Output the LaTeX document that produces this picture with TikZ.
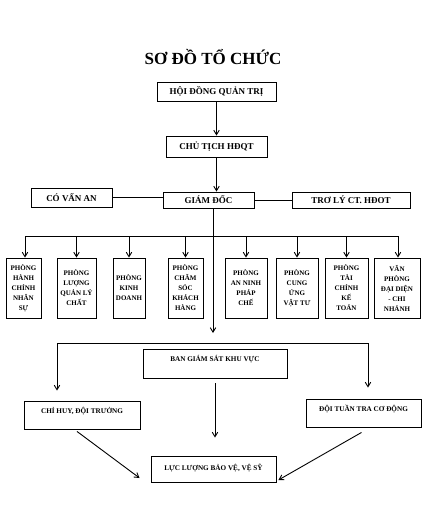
\documentclass[tikz,border=0pt]{standalone}
\usepackage{fontspec}
\setmainfont{Liberation Serif}
\usepackage{tikz}
\usetikzlibrary{arrows.meta}

\begin{document}
\begin{tikzpicture}[
  x=1pt, y=-1pt,
  every node/.style={font=\bfseries\fontsize{9}{10}\selectfont},
  box/.style={draw=black, line width=0.9pt, inner sep=0pt, align=center},
  dept/.style={box, font=\bfseries\fontsize{7}{10}\selectfont,
               minimum height=60pt},
  wide/.style={box, font=\bfseries\fontsize{7.2}{8}\selectfont},
  arr/.style={-{Straight Barb[length=4.5pt,width=5.5pt]}, line width=0.9pt},
  ln/.style={line width=0.9pt}
]
\useasboundingbox (0,0) rectangle (436,506);

\node[font=\bfseries\fontsize{17}{19}\selectfont] (title) at (213,57) {SƠ ĐỒ TỔ CHỨC};

% top levels
\node[box, minimum width=119pt, minimum height=19pt] (hdqt) at (216.5,91.5) {HỘI ĐỒNG QUẢN TRỊ};
\node[box, minimum width=101pt, minimum height=21pt] (ct) at (216.5,146.5) {CHỦ TỊCH HĐQT};
\node[box, minimum width=91pt, minimum height=16pt] (gd) at (208.5,200) {GIÁM ĐỐC};
\node[box, minimum width=81pt, minimum height=19pt] (cva) at (71.5,197.5) {CÓ VẤN AN};
\node[box, minimum width=118pt, minimum height=16pt] (tl) at (351,200) {TRƠ LÝ CT. HĐOT};

% departments
\node[dept, minimum width=35pt] (p1) at (23.5,288) {PHÒNG\\HÀNH\\CHÍNH\\NHÂN\\SỰ};
\node[dept, minimum width=39pt] (p2) at (76.5,288) {PHÒNG\\LƯỢNG\\QUẢN LÝ\\CHẤT};
\node[dept, minimum width=32pt] (p3) at (129,288) {PHÒNG\\KINH\\DOANH};
\node[dept, minimum width=35pt] (p4) at (185.5,288) {PHÒNG\\CHĂM\\SÓC\\KHÁCH\\HÀNG};
\node[dept, minimum width=42pt] (p5) at (246,288) {PHÒNG\\AN NINH\\PHÁP\\CHẾ};
\node[dept, minimum width=42pt] (p6) at (297,288) {PHÒNG\\CUNG\\ỨNG\\VẬT TƯ};
\node[dept, minimum width=43pt] (p7) at (346.5,288) {PHÒNG\\TÀI\\CHÍNH\\KẾ\\TOÁN};
\node[dept, minimum width=46pt] (p8) at (397,288) {VĂN\\PHÒNG\\ĐẠI DIỆN\\- CHI\\NHÁNH};

% lower part
\node[wide, minimum width=144pt, text height=12pt, text depth=17pt] (bgs) at (215,363.5) {BAN GIÁM SÁT KHU VỰC};
\node[wide, minimum width=116pt, text height=12pt, text depth=16pt] (chh) at (82,415) {CHỈ HUY, ĐỘI TRƯỞNG};
\node[wide, minimum width=115pt, text height=12pt, text depth=16pt] (tt) at (363.5,413) {ĐỘI TUẦN TRA CƠ ĐỘNG};
\node[wide, minimum width=125pt, text height=14pt, text depth=12pt] (ll) at (213.5,469) {LỰC LƯỢNG BẢO VỆ, VỆ SỸ};

\coordinate (busL) at (25,236);
\coordinate (busR) at (398,236);
\coordinate (down) at (213,333);
\coordinate (b2l) at (57,343);
\coordinate (b2r) at (368,343);

\draw[arr] (hdqt) -- (ct);
\draw[arr] (ct) -- (ct |- gd.north);
\draw[ln] (cva) -- (cva -| gd.west);
\draw[ln] (gd) -- (tl);
\draw[arr] (gd.south -| down) -- (down);

\draw[ln] (busL) -- (busR);
\draw[arr] (busL) -- (busL |- p1.north);
\draw[arr] (p2 |- busL) -- (p2);
\draw[arr] (p3 |- busL) -- (p3);
\draw[arr] (p4 |- busL) -- (p4);
\draw[arr] (p5 |- busL) -- (p5);
\draw[arr] (p6 |- busL) -- (p6);
\draw[arr] (p7 |- busL) -- (p7);
\draw[arr] (busR) -- (busR |- p8.north);

\draw[ln] (b2l) -- (b2r);
\draw[arr, shorten >=10pt] (b2l) -- (b2l |- chh.north);
\draw[arr, shorten >=11pt] (b2r) -- (b2r |- tt.north);
\draw[arr, shorten <=5pt, shorten >=18pt] (bgs) -- (bgs |- ll.north);
\draw[arr] ([xshift=-5pt, yshift=-2pt]chh.south) -- ([xshift=-11pt, yshift=-9pt]ll.west);
\draw[arr] ([xshift=-2pt, yshift=-5pt]tt.south) -- ([xshift=2pt, yshift=-11pt]ll.east);
\end{tikzpicture}
\end{document}
